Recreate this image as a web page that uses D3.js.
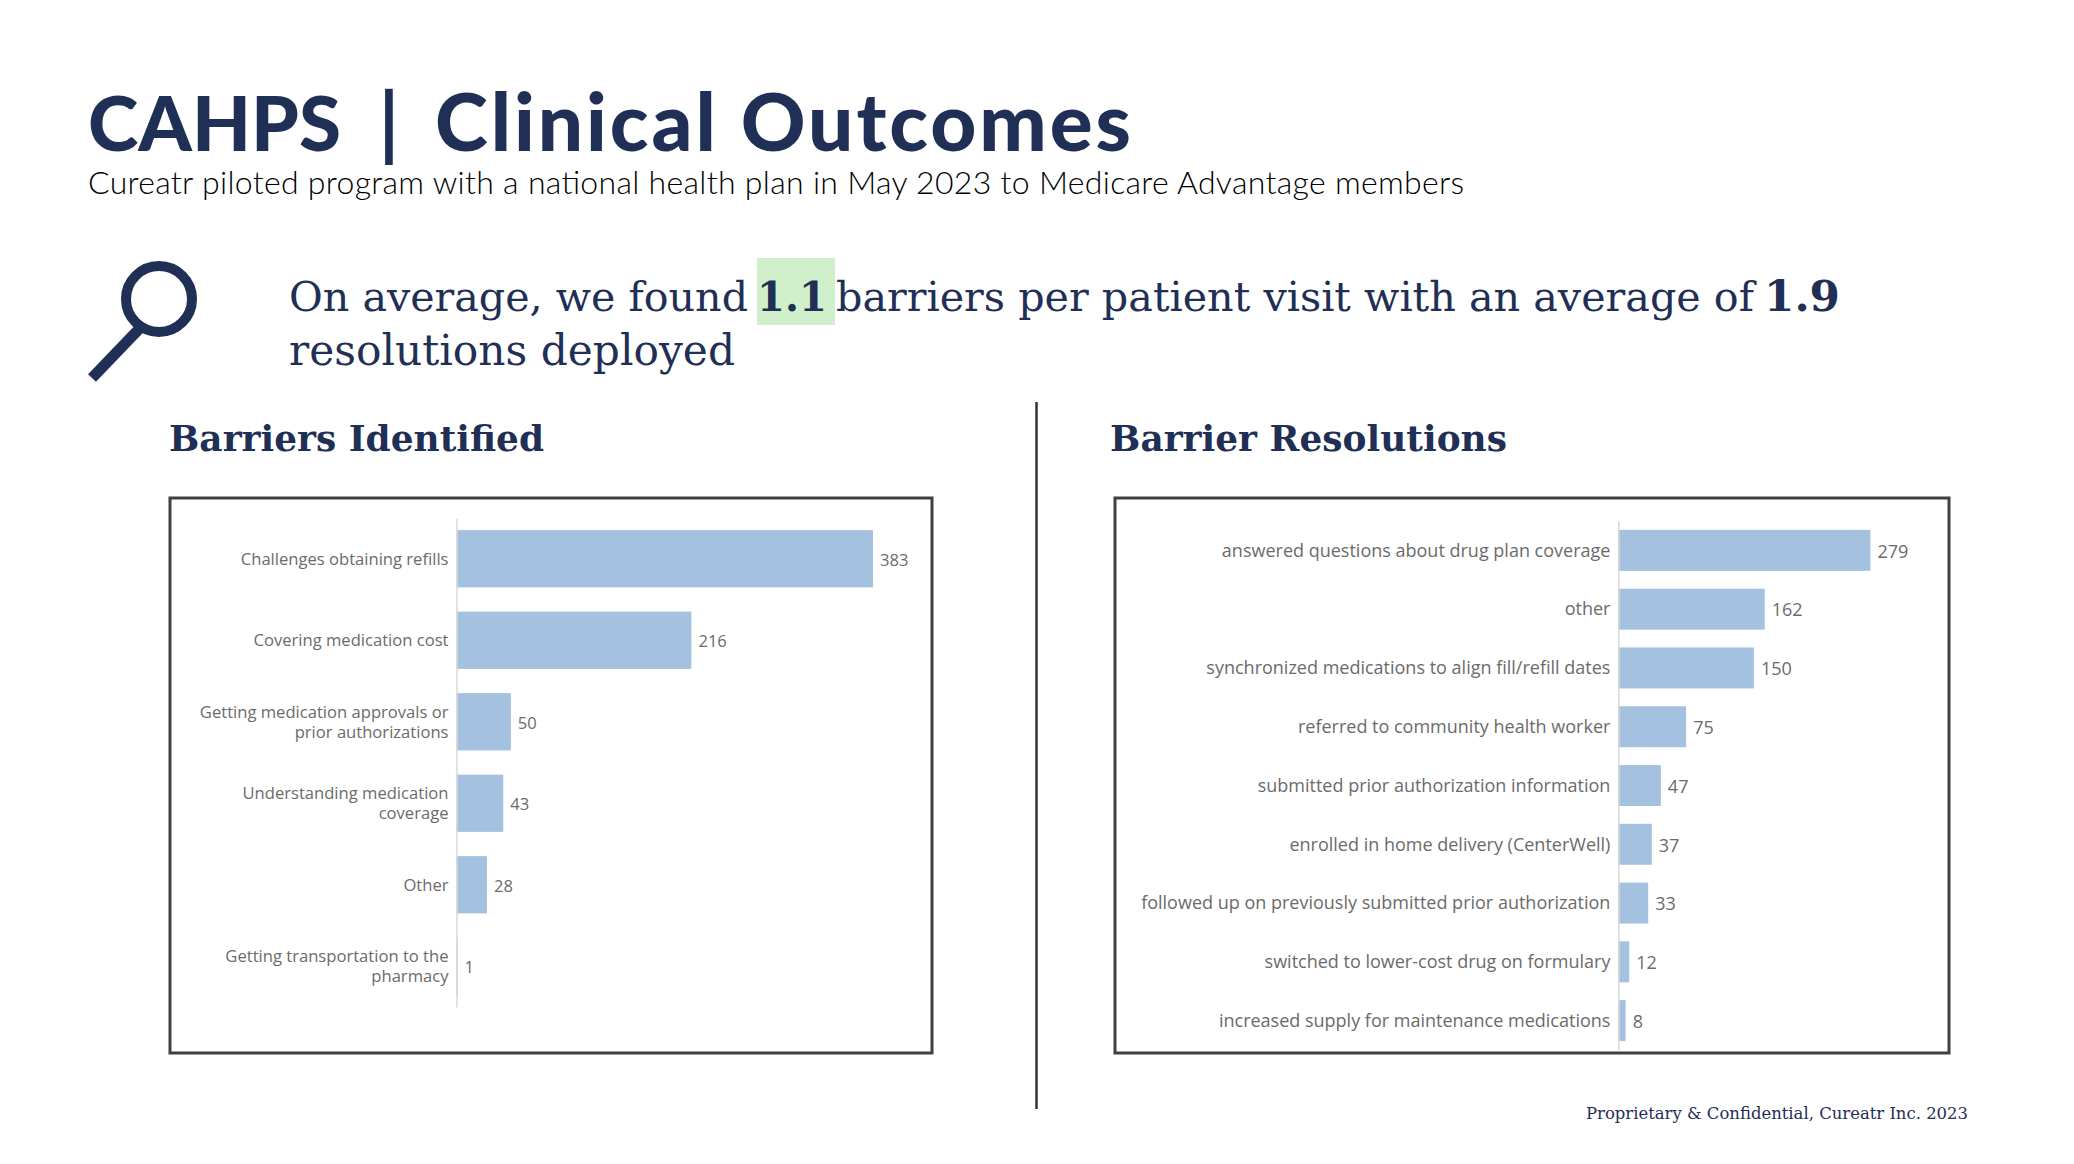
<!DOCTYPE html>
<html>
<head>
<meta charset="utf-8">
<script src="https://d3js.org/d3.v7.min.js"></script>
<style>
    html, body { margin: 0; padding: 0; background: #fff; }
    svg { display: block; }
    .label { font-family: "Open Sans", sans-serif; fill: #6b6b6b; }
    .serif { font-family: "DejaVu Serif", serif; fill: #1f2f55; }
    .sans { font-family: Lato, sans-serif; }
</style>
</head>
<body>
<svg id="slide" width="2074" height="1164"></svg>
<script>
const barrierNames = [
    "Challenges obtaining refills",
    "Covering medication cost",
    "Getting medication approvals or prior authorizations",
    "Understanding medication coverage",
    "Other",
    "Getting transportation to the pharmacy"
];
const barrierValues = [383, 216, 50, 43, 28, 1];

const resolutionNames = [
    "answered questions about drug plan coverage",
    "other",
    "synchronized medications to align fill/refill dates",
    "referred to community health worker",
    "submitted prior authorization information",
    "enrolled in home delivery (CenterWell)",
    "followed up on previously submitted prior authorization",
    "switched to lower-cost drug on formulary",
    "increased supply for maintenance medications"
];
const resolutionValues = [279, 162, 150, 75, 47, 37, 33, 12, 8];

const navy = "#1f2f55";
const svg = d3.select("#slide");

// text made to span the width it has on the slide: shrink the font if it runs
// too wide, stretch the spacing if it runs short
function fitText(parent, str, x, y, width, size, cls, weight) {
    let t = parent.append("text")
        .attr("class", cls)
        .attr("x", x)
        .attr("y", y)
        .style("font-size", size + "px")
        .style("font-weight", weight)
        .text(str);
    let natural = t.node().getComputedTextLength();
    if (natural > width) {
        t.style("font-size", (size * width / natural) + "px");
    }
    t.attr("textLength", width).attr("lengthAdjust", "spacing");
    return t;
}

/* header */
fitText(svg, "CAHPS", 88, 151, 253, 80, "sans", 900).style("fill", navy);
fitText(svg, "Clinical Outcomes", 435, 151, 696, 80, "sans", 900).style("fill", navy);
svg.append("text")
    .attr("class", "sans")
    .attr("x", 389).attr("y", 151)
    .attr("text-anchor", "middle")
    .style("font-size", "80px")
    .style("font-weight", 700)
    .style("fill", navy)
    .text("|");

fitText(svg, "Cureatr piloted program with a national health plan in May 2023 to Medicare Advantage members",
    88, 194, 1376, 32, "sans", 300).style("fill", "#000");

/* magnifying glass */
svg.append("circle")
    .attr("cx", 159).attr("cy", 299).attr("r", 33)
    .style("fill", "none").style("stroke", navy).style("stroke-width", 10);
svg.append("line")
    .attr("x1", 140).attr("y1", 328).attr("x2", 92).attr("y2", 378)
    .style("stroke", navy).style("stroke-width", 11);

/* summary sentence */
svg.append("rect")
    .attr("x", 757).attr("y", 258).attr("width", 78).attr("height", 67)
    .style("fill", "#d0f0cc");
fitText(svg, "On average, we found", 289, 311, 459, 44, "serif", 400);
fitText(svg, "1.1", 757, 311, 70, 44, "serif", 700);
fitText(svg, "barriers per patient visit with an average of", 836, 311, 918, 44, "serif", 400);
fitText(svg, "1.9", 1764, 311, 76, 48, "serif", 700);
fitText(svg, "resolutions deployed", 289, 365, 446, 44, "serif", 400);

fitText(svg, "Barriers Identified", 169, 451, 375, 40, "serif", 700);
fitText(svg, "Barrier Resolutions", 1110, 451, 397, 40, "serif", 700);

svg.append("line")
    .attr("x1", 1036.5).attr("x2", 1036.5).attr("y1", 402).attr("y2", 1109)
    .style("stroke", "#333").style("stroke-width", 2.5);

fitText(svg, "Proprietary & Confidential, Cureatr Inc. 2023", 1586, 1119, 382, 17, "serif", 400);

/* wrap a tick label to several lines, centered on the tick */
function wrapLabel(sel, maxWidth, lineHeight) {
    sel.each(function () {
        let text = d3.select(this);
        let words = text.text().split(" ");
        let dx = text.attr("x");
        let lines = [];
        let line = [];
        text.text(null);
        let probe = text.append("tspan");
        words.forEach(function (w) {
            line.push(w);
            probe.text(line.join(" "));
            if (probe.node().getComputedTextLength() > maxWidth && line.length > 1) {
                line.pop();
                lines.push(line.join(" "));
                line = [w];
            }
        });
        lines.push(line.join(" "));
        probe.remove();
        text.attr("dy", null).attr("y", 0);
        lines.forEach(function (l, i) {
            text.append("tspan")
                .attr("x", dx)
                .attr("y", (i - (lines.length - 1) / 2) * lineHeight)
                .attr("dy", "0.35em")
                .text(l);
        });
    });
}

function drawPanel(cfg) {
    // frame
    svg.append("rect")
        .attr("x", cfg.box[0]).attr("y", cfg.box[1])
        .attr("width", cfg.box[2]).attr("height", cfg.box[3])
        .style("fill", "#fff").style("stroke", "#404040").style("stroke-width", 3);

    let rows = cfg.names.map((name, i) => ({ name, value: cfg.values[i] }));

    let x = d3.scaleLinear()
        .domain([0, cfg.domainMax])
        .range([cfg.left, cfg.right]);

    let y = d3.scaleBand()
        .domain(cfg.names)
        .range([cfg.top, cfg.bottom])
        .paddingInner(cfg.padding)
        .paddingOuter(cfg.padding / 2);

    let g = svg.append("g");

    g.selectAll("rect")
        .data(rows)
        .enter()
        .append("rect")
        .attr("x", x(0))
        .attr("y", d => y(d.name))
        .attr("width", d => x(d.value) - x(0))
        .attr("height", y.bandwidth())
        .style("fill", "#a4c2e0");

    let axis = g.append("g")
        .attr("transform", `translate(${x(0)},0)`)
        .call(d3.axisLeft(y).tickSize(0).tickPadding(8));
    axis.select(".domain").style("stroke", "#d9d9d9").style("stroke-width", 1.5);
    axis.selectAll("text")
        .attr("class", "label")
        .style("font-size", cfg.fontSize + "px")
        .style("font-family", null)
        .call(wrapLabel, cfg.wrapWidth, 20);

    g.selectAll(".value")
        .data(rows)
        .enter()
        .append("text")
        .attr("class", "label value")
        .attr("x", d => x(d.value) + 7)
        .attr("y", d => y(d.name) + y.bandwidth() / 2 + 1)
        .attr("dy", "0.35em")
        .style("font-size", cfg.fontSize + "px")
        .text(d => d.value);
}

drawPanel({
    names: barrierNames,
    values: barrierValues,
    box: [170, 498, 762, 555],
    left: 456.5, right: 873, domainMax: 383,
    top: 518, bottom: 1007,
    padding: 0.297,
    fontSize: 16.6,
    wrapWidth: 260
});

drawPanel({
    names: resolutionNames,
    values: resolutionValues,
    box: [1115, 498, 834, 555],
    left: 1618.4, right: 1870.4, domainMax: 279,
    top: 521, bottom: 1050,
    padding: 0.303,
    fontSize: 18,
    wrapWidth: 480
});
</script>
</body>
</html>
